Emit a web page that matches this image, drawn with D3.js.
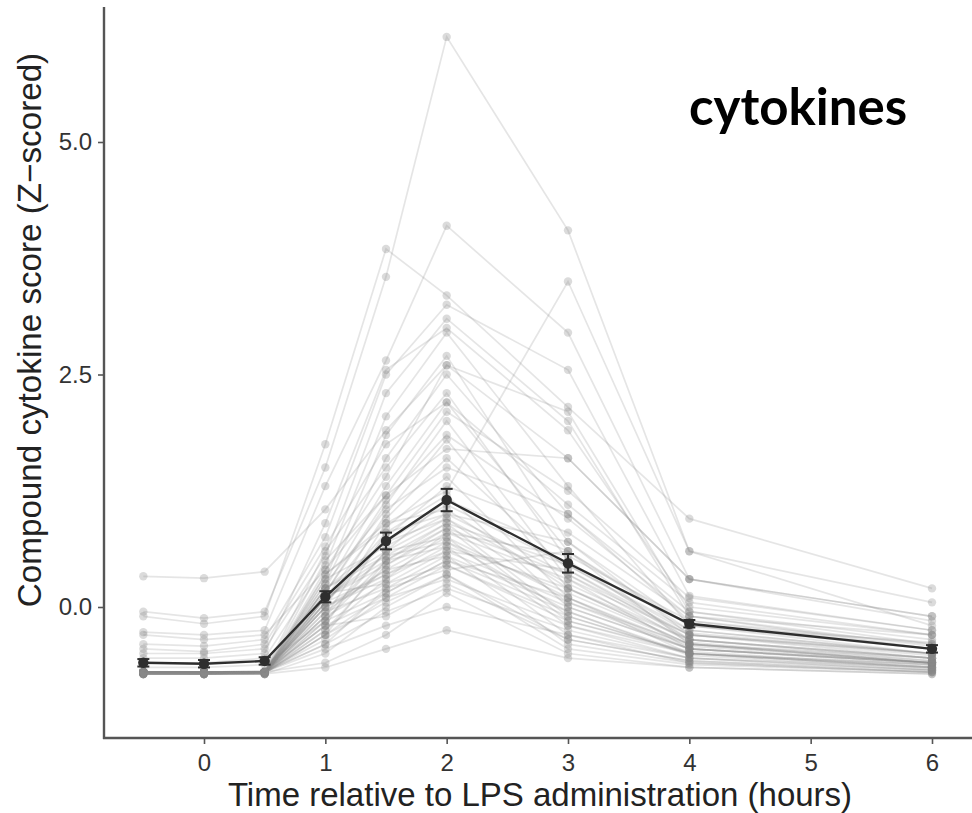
<!DOCTYPE html>
<html>
<head>
<meta charset="utf-8">
<script src="https://cdn.jsdelivr.net/npm/d3@7"></script>
<style>
  html, body { margin: 0; padding: 0; background: #fff; }
  svg { display: block; }
</style>
</head>
<body>
<svg id="chart" width="972" height="813"></svg>
<script>
// ---- data ----
const timePoints = [-0.5, 0, 0.5, 1, 1.5, 2, 3, 4, 6];
const xTickValues = [0, 1, 2, 3, 4, 5, 6];
const yTickValues = [0, 2.5, 5];
const yTickLabels = ["0.0", "2.5", "5.0"];

// per-subject compound cytokine scores at each time point
const subjects = [
  [0.33, 0.31, 0.38, 1.05, 1.9, 2.6, 1.6, 0.3, -0.1],
  [-0.05, -0.12, -0.05, 1.5, 3.55, 6.13, 4.05, 0.6, 0.05],
  [-0.1, -0.18, -0.1, 1.75, 3.85, 3.35, 2.15, 0.95, 0.2],
  [-0.27, -0.3, -0.25, 1.3, 2.65, 4.1, 2.95, 0.3, -0.1],
  [-0.4, -0.42, -0.35, 0.75, 2.5, 3.25, 2.55, 0.12, -0.25],
  [-0.5, -0.5, -0.45, 0.55, 2.3, 3.1, 2.0, -0.1, -0.3],
  [-0.6, -0.6, -0.55, 0.45, 2.05, 2.95, 1.3, -0.2, -0.38],
  [-0.7, -0.7, -0.7, 0.3, 1.85, 2.7, 0.7, -0.3, -0.5],
  [-0.7, -0.71, -0.7, 0.25, 1.6, 2.5, 1.0, -0.15, -0.45],
  [-0.72, -0.72, -0.7, -0.1, 0.9, 1.25, 3.5, 0.6, -0.2],
  [-0.7, -0.7, -0.69, 0.6, 1.5, 2.3, 0.5, -0.35, -0.55],
  [-0.71, -0.7, -0.7, 0.2, 1.3, 2.2, 0.6, -0.4, -0.6],
  [-0.55, -0.55, -0.5, 0.9, 2.55, 3.0, 1.9, 0.0, -0.3],
  [-0.7, -0.7, -0.7, 0.15, 1.1, 2.0, 0.3, -0.45, -0.6],
  [-0.7, -0.72, -0.7, 0.0, 1.0, 1.8, 0.2, -0.4, -0.55],
  [-0.3, -0.35, -0.3, 0.4, 1.4, 2.6, 2.1, -0.05, -0.35],
  [-0.72, -0.72, -0.71, 0.1, 0.95, 1.6, 0.4, -0.3, -0.5],
  [-0.7, -0.7, -0.7, 0.35, 0.85, 1.4, 0.1, -0.5, -0.62],
  [-0.7, -0.7, -0.69, -0.2, 0.8, 1.2, 0.0, -0.45, -0.6],
  [-0.71, -0.71, -0.7, 0.05, 0.7, 1.1, 0.45, -0.25, -0.5],
  [-0.7, -0.7, -0.7, 0.3, 0.65, 1.0, 0.7, -0.2, -0.45],
  [-0.65, -0.65, -0.62, -0.15, 0.6, 0.95, 0.25, -0.35, -0.55],
  [-0.72, -0.72, -0.72, 0.2, 0.55, 0.9, -0.1, -0.5, -0.65],
  [-0.7, -0.7, -0.7, -0.3, 0.5, 0.85, 0.35, -0.3, -0.52],
  [-0.7, -0.7, -0.7, 0.1, 0.45, 0.8, 0.55, -0.15, -0.4],
  [-0.71, -0.71, -0.71, -0.05, 0.4, 0.75, -0.2, -0.55, -0.65],
  [-0.7, -0.7, -0.7, 0.0, 0.35, 0.7, 0.15, -0.4, -0.58],
  [-0.72, -0.72, -0.71, -0.25, 0.3, 0.65, -0.3, -0.55, -0.68],
  [-0.7, -0.7, -0.7, 0.15, 0.25, 0.6, 0.05, -0.45, -0.6],
  [-0.71, -0.72, -0.7, -0.4, 0.2, 0.55, -0.4, -0.6, -0.7],
  [-0.7, -0.7, -0.7, -0.35, 0.1, 0.45, -0.15, -0.5, -0.66],
  [-0.72, -0.72, -0.72, -0.5, 0.0, 0.35, -0.45, -0.62, -0.7],
  [-0.7, -0.7, -0.7, -0.2, -0.1, 0.25, -0.35, -0.58, -0.68],
  [-0.71, -0.71, -0.7, -0.6, -0.3, 0.15, -0.5, -0.65, -0.72],
  [-0.72, -0.72, -0.72, -0.65, -0.45, -0.25, -0.55, -0.65, -0.72],
  [-0.7, -0.7, -0.7, -0.45, -0.2, 0.0, -0.3, -0.6, -0.7],
  [-0.7, -0.71, -0.7, 0.5, 1.2, 1.7, 1.6, 0.3, -0.15],
  [-0.7, -0.7, -0.7, 0.25, 1.05, 1.5, 1.0, -0.05, -0.4],
  [-0.72, -0.72, -0.72, 0.05, 0.75, 1.3, 0.8, -0.1, -0.42],
  [-0.7, -0.7, -0.7, -0.1, 0.6, 1.15, 0.6, -0.2, -0.5],
  [-0.71, -0.71, -0.71, 0.35, 0.9, 1.05, 0.2, -0.35, -0.55],
  [-0.7, -0.7, -0.7, -0.15, 0.5, 0.9, 0.45, -0.28, -0.5],
  [-0.7, -0.7, -0.7, 0.2, 0.7, 0.95, 0.05, -0.4, -0.6],
  [-0.72, -0.72, -0.71, -0.3, 0.15, 0.5, 0.1, -0.45, -0.6],
  [-0.7, -0.7, -0.7, 0.1, 0.55, 0.7, -0.05, -0.5, -0.62],
  [-0.7, -0.7, -0.7, 0.0, 0.3, 0.8, 0.3, -0.3, -0.55],
  [-0.45, -0.48, -0.4, 0.65, 1.75, 2.2, 1.1, 0.05, -0.3],
  [-0.7, -0.7, -0.7, 0.4, 1.2, 2.1, 1.25, 0.1, -0.25],
  [-0.71, -0.71, -0.7, -0.05, 0.2, 0.4, 0.6, -0.25, -0.5],
  [-0.7, -0.7, -0.7, 0.15, 1.15, 1.85, 0.95, -0.1, -0.45],
  [-0.7, -0.7, -0.7, -0.2, 0.1, 0.3, -0.2, -0.5, -0.65],
  [-0.71, -0.71, -0.7, 0.0, 0.4, 0.55, 0.0, -0.45, -0.62],
  [-0.7, -0.7, -0.7, -0.4, -0.05, 0.2, -0.25, -0.55, -0.68],
  [-0.72, -0.72, -0.72, 0.1, 0.5, 0.65, 0.2, -0.4, -0.6],
  [-0.7, -0.7, -0.7, -0.1, 0.25, 0.45, -0.1, -0.5, -0.65],
  [-0.7, -0.7, -0.7, 0.05, 0.35, 0.6, 0.4, -0.35, -0.58],
  [-0.71, -0.71, -0.71, -0.3, 0.05, 0.35, -0.35, -0.58, -0.7],
  [-0.7, -0.7, -0.7, 0.2, 0.6, 0.75, 0.1, -0.42, -0.6],
  [-0.7, -0.7, -0.7, -0.25, 0.45, 0.85, -0.15, -0.48, -0.64],
  [-0.71, -0.71, -0.7, 0.05, 0.8, 1.0, 0.35, -0.38, -0.6],
  [-0.72, -0.72, -0.72, -0.15, 0.15, 0.5, -0.05, -0.52, -0.67]
];

// group mean and standard error
const meanScores = [-0.60, -0.61, -0.58, 0.11, 0.71, 1.15, 0.47, -0.18, -0.45];
const seScores   = [0.04, 0.04, 0.04, 0.06, 0.09, 0.12, 0.10, 0.04, 0.04];

const titleText = "cytokines";
const xTitle = "Time relative to LPS administration (hours)";
const yTitle = "Compound cytokine score (Z\u2212scored)";

// ---- layout ----
const plotLeft = 104, plotRight = 972, plotTop = 7, plotBottom = 738;
const svg = d3.select("#chart");

const x = d3.scaleLinear().domain([0, 6]).range([204, 932]);
const y = d3.scaleLinear().domain([0, 5]).range([607, 142]);

const line = d3.line()
  .x((d, i) => x(timePoints[i]))
  .y(d => y(d));

const g = svg.append("g");

// individual subject lines
g.append("g").selectAll("path")
  .data(subjects).join("path")
  .attr("d", line)
  .attr("fill", "none")
  .attr("stroke", "#888")
  .attr("stroke-opacity", 0.22)
  .attr("stroke-width", 1.7);

// individual points
const pts = [];
subjects.forEach(s => s.forEach((v, i) => pts.push({t: timePoints[i], v})));
g.append("g").selectAll("circle")
  .data(pts).join("circle")
  .attr("cx", d => x(d.t))
  .attr("cy", d => y(d.v))
  .attr("r", 4.2)
  .attr("fill", "#888")
  .attr("fill-opacity", 0.3);

// mean line
g.append("path")
  .datum(meanScores)
  .attr("d", line)
  .attr("fill", "none")
  .attr("stroke", "#2e2e2e")
  .attr("stroke-width", 2.4);

// error bars
const eb = g.append("g").attr("stroke", "#2e2e2e").attr("stroke-width", 2);
meanScores.forEach((m, i) => {
  const cx = x(timePoints[i]);
  const lo = y(m - seScores[i]), hi = y(m + seScores[i]);
  eb.append("line").attr("x1", cx).attr("x2", cx).attr("y1", lo).attr("y2", hi);
  eb.append("line").attr("x1", cx - 6).attr("x2", cx + 6).attr("y1", lo).attr("y2", lo);
  eb.append("line").attr("x1", cx - 6).attr("x2", cx + 6).attr("y1", hi).attr("y2", hi);
});

// mean points
g.append("g").selectAll("circle")
  .data(meanScores).join("circle")
  .attr("cx", (d, i) => x(timePoints[i]))
  .attr("cy", d => y(d))
  .attr("r", 5.2)
  .attr("fill", "#2e2e2e");

// ---- axes ----
const axisColor = "#555";
const xAxis = svg.append("g")
  .attr("transform", `translate(0,${plotBottom})`)
  .call(d3.axisBottom(x).tickValues(xTickValues).tickFormat(d3.format("d")).tickSize(6).tickPadding(10));
xAxis.select(".domain").remove();
xAxis.selectAll(".tick line").attr("stroke", axisColor).attr("stroke-width", 1.6);
xAxis.selectAll(".tick text")
  .attr("font-family", "'Liberation Sans', Arial, sans-serif")
  .attr("font-size", 24).attr("fill", "#333");

const yAxis = svg.append("g")
  .attr("transform", `translate(${plotLeft},0)`)
  .call(d3.axisLeft(y).tickValues(yTickValues).tickFormat((d, i) => yTickLabels[i]).tickSize(6).tickPadding(6));
yAxis.select(".domain").remove();
yAxis.selectAll(".tick line").attr("stroke", axisColor).attr("stroke-width", 1.6);
yAxis.selectAll(".tick text")
  .attr("font-family", "'Liberation Sans', Arial, sans-serif")
  .attr("font-size", 24).attr("fill", "#333");

svg.append("line")
  .attr("x1", plotLeft).attr("x2", plotLeft)
  .attr("y1", plotTop).attr("y2", plotBottom + 1)
  .attr("stroke", axisColor).attr("stroke-width", 2.4);
svg.append("line")
  .attr("x1", plotLeft - 1).attr("x2", plotRight)
  .attr("y1", plotBottom).attr("y2", plotBottom)
  .attr("stroke", axisColor).attr("stroke-width", 2.4);

// titles
svg.append("text")
  .attr("x", 540).attr("y", 806)
  .attr("text-anchor", "middle")
  .attr("font-family", "'Liberation Sans', Arial, sans-serif")
  .attr("font-size", 33)
  .attr("fill", "#222")
  .text(xTitle);

svg.append("text")
  .attr("transform", `translate(41,330) rotate(-90)`)
  .attr("text-anchor", "middle")
  .attr("font-family", "'Liberation Sans', Arial, sans-serif")
  .attr("font-size", 33.2)
  .attr("fill", "#222")
  .text(yTitle);

svg.append("text")
  .attr("x", 798).attr("y", 125)
  .attr("text-anchor", "middle")
  .attr("font-family", "Lato, 'Open Sans', sans-serif")
  .attr("font-weight", "bold")
  .attr("font-size", 51)
  .attr("fill", "#000")
  .text(titleText);
</script>
</body>
</html>
